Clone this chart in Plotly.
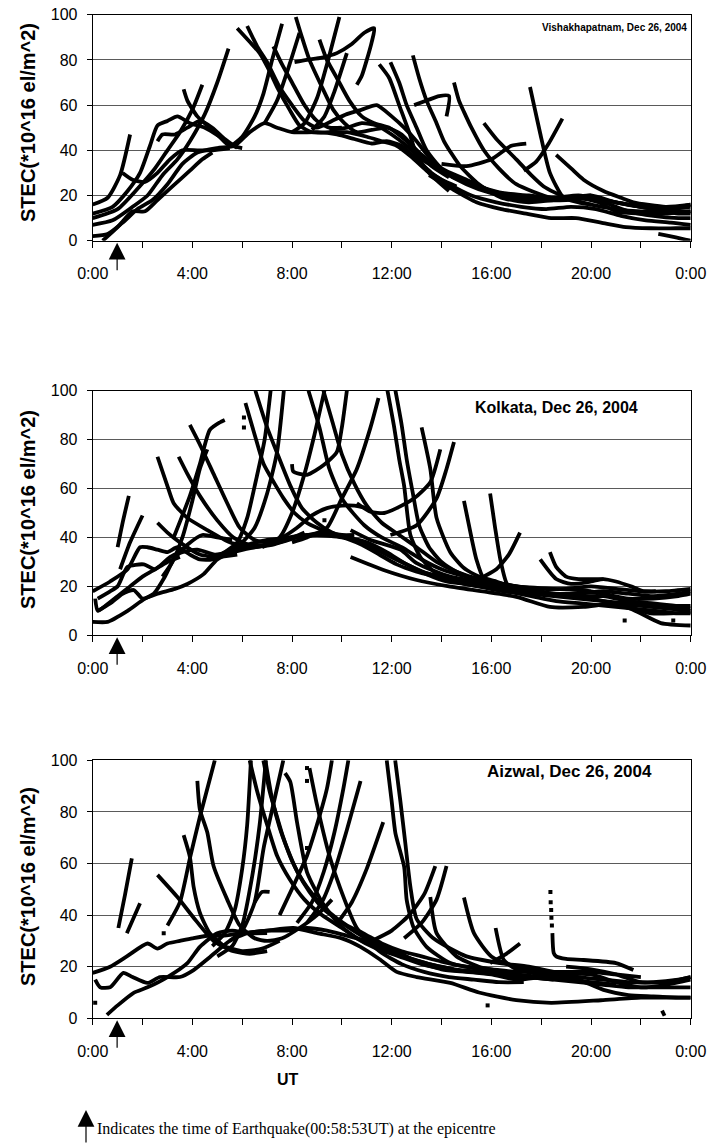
import plotly.graph_objects as go

# ---------------- DATA (UT hours, STEC in 1e16 el/m^2) ----------------
hour_ticks = [0, 2, 4, 6, 8, 10, 12, 14, 16, 18, 20, 22, 24]
hour_labels = ["0:00", "", "4:00", "", "8:00", "", "12:00", "", "16:00", "", "20:00", "", "0:00"]
stec_ticks = [0, 20, 40, 60, 80, 100]
quake_hour = 0.98  # 00:58:53 UT

stations = ["Vishakhapatnam, Dec 26, 2004", "Kolkata, Dec 26, 2004", "Aizwal, Dec 26, 2004"]

# Vishakhapatnam passes
vis_t = [
    [0, 0.6, 1.1, 1.5],
    [0, 0.8, 1.4, 1.9, 2.3, 2.6, 3.0, 3.4, 3.9, 4.5, 5.1, 5.6, 6.0],
    [0, 1.0, 1.8, 2.5, 3.0, 3.5, 4.0, 4.4],
    [0, 0.8, 1.6, 2.2, 2.8, 3.4, 3.9, 4.5, 5.0, 5.45],
    [0.4, 1.0, 1.6, 2.1, 2.6, 3.2, 3.9, 4.4, 4.8],
    [0, 0.6, 1.2, 1.8, 2.4, 3.0, 3.6, 4.2, 5.0, 5.7, 6.3, 6.9, 7.4, 8.0, 9.0, 9.8, 10.5, 11.2, 11.8, 12.4, 13.0, 13.6, 14.3, 15.2, 16.2, 17.2, 18.2, 19.2, 20.2, 21.2, 22.2, 23.2, 24],
    [1.2, 1.6, 2.1, 2.6, 3.1, 3.6, 4.2, 4.8, 5.5],
    [2.6, 2.8, 3.3, 3.8, 4.3, 4.8, 5.3, 5.8],
    [3.65, 3.8, 4.2, 4.6, 5.0, 5.5, 6.0, 6.5, 6.85, 7.2, 7.6],
    [5.8, 6.3, 6.7, 7.1, 7.4, 7.9, 8.3, 8.8, 9.5, 10.2, 11.0, 11.6, 12.2, 12.8, 13.4, 14.0, 14.6],
    [6.2, 6.6, 7.0, 7.5, 8.0, 8.5, 9.0, 9.6, 10.2, 10.8, 11.4, 12.0, 12.5, 13.0, 13.5, 14.2, 15.0, 16.0, 17.0, 18.0, 19.0, 20.0],
    [8.15, 8.4, 8.7, 9.2, 9.65, 10.1, 10.6, 11.2, 11.8, 12.4, 13.0, 13.6, 14.3],
    [6.9, 7.4, 7.9, 8.3],
    [8.1, 8.6, 9.2, 9.8, 10.4, 10.9, 11.3, 11.2, 11.0, 10.8, 10.6],
    [8.0, 8.5, 9.0, 9.4, 9.9],
    [8.8, 9.3, 9.7, 10.2],
    [9.1, 9.4, 9.8, 10.3, 10.8, 11.3, 11.9, 12.5, 13.2, 14.0, 15.0, 16.0, 17.0, 18.0, 19.0, 20.0, 21.0, 22.0, 23.0, 24.0],
    [7.25, 7.6, 8.0, 8.5, 9.0, 9.5, 10.0],
    [11.5, 11.9, 12.3, 12.7, 13.0, 13.5, 14.3],
    [11.95, 12.3, 12.6, 13.0, 13.4, 14.0, 15.0, 16.0, 17.0, 18.0, 19.0, 20.0, 21.0, 22.0, 23.0, 24.0],
    [12.85, 13.1, 13.4, 13.8, 14.1, 14.75, 15.5, 16.4, 17.5, 18.5, 19.5, 20.5, 21.5, 22.5, 23.5, 24],
    [14.5, 14.7, 14.9, 15.2, 15.7, 16.3, 17.0, 18.4, 19.5, 20.3, 21.0, 22.0, 23.0, 24.0],
    [15.7, 16.2, 17.0, 17.6, 18.1, 19.0, 20.0, 21.0, 22.0, 23.0, 24.0],
    [17.55, 17.75, 17.95, 18.35, 18.9, 19.5, 20.0],
    [17.3, 17.8, 18.3, 18.85],
    [18.6, 19.2, 19.7, 20.5, 21.2, 21.7, 23.0, 24.0],
    [14.0, 15.0, 16.0, 16.8, 17.4],
    [12.9, 13.4, 13.9, 14.3, 14.2],
    [22.7, 23.4, 24.0],
    [13.5, 14.4, 15.4, 16.4, 17.4, 18.4, 19.4, 20.4, 21.4, 22.4, 23.4, 24.0],
    [9.5, 10.2, 10.8, 11.4, 12.0, 12.6, 13.2, 13.8, 14.5, 15.5, 16.5, 17.5, 18.5, 19.5, 20.5, 21.5, 22.5, 23.5, 24],
]
vis_v = [
    [16, 19, 29, 47],
    [12, 15, 22, 30, 42, 51, 53, 55, 52, 50, 46, 42, 41],
    [10, 14, 23, 32, 40, 48, 58, 69],
    [7, 9, 15, 20, 29, 36, 44, 56, 70, 85],
    [0, 6, 13, 13, 18, 24, 31, 36, 39],
    [2, 3, 8, 14, 18, 25, 34, 39, 41, 42, 48, 52, 50, 48, 48, 47, 45, 43, 44, 42, 36, 30, 25, 20, 17, 15, 14, 15, 14, 11, 9, 8, 7],
    [30, 27, 26, 30, 36, 40, 40, 40, 41],
    [44, 47, 47, 50, 53, 50, 45, 41],
    [67, 62, 55, 51, 47, 42, 46, 55, 65, 80, 96],
    [94, 88, 83, 75, 68, 58, 51, 48, 48, 48, 46, 44, 42, 37, 31, 27, 24],
    [95, 86, 79, 68, 60, 53, 50, 53, 56, 58, 60, 55, 50, 44, 37, 30, 26, 22, 20, 19, 19, 20],
    [99, 90, 80, 68, 58, 52, 48, 49, 50, 47, 40, 33, 28],
    [52, 62, 78, 92],
    [79, 80, 81, 83, 87, 92, 94, 88, 80, 73, 69],
    [48, 52, 63, 78, 99],
    [49, 55, 66, 83],
    [89, 80, 72, 62, 55, 52, 50, 45, 38, 31, 25, 21, 19, 18, 18, 19, 17, 15, 14, 15],
    [86, 78, 70, 60, 53, 50, 50],
    [78, 72, 60, 48, 38, 30, 22],
    [79, 70, 60, 50, 40, 32, 27, 22, 19, 18, 19, 20, 17, 15, 14, 16],
    [82, 72, 62, 52, 44, 33, 25, 19, 17, 18, 19, 17, 13, 11, 10, 10],
    [70, 62, 57, 50, 40, 32, 25, 19, 19, 17, 13, 12, 12, 13],
    [52, 45, 36, 29, 24, 19, 16, 14, 13, 13, 13],
    [68, 58, 48, 30, 19, 17, 16],
    [31, 35, 43, 54],
    [38, 32, 27, 22, 19, 17, 15, 16],
    [34, 33, 36, 42, 43],
    [60, 62, 64, 64, 55],
    [3, 1.5, 0],
    [29, 23, 17, 14, 12, 10, 10, 8, 6, 5.5, 5.5, 5.5],
    [49, 50, 52, 51, 47, 42, 36, 32, 28, 24, 21, 20, 19, 20, 18, 16, 14, 12, 12],
]

# Kolkata passes
kol_t = [
    [1.0, 1.2, 1.45],
    [1.1, 1.5, 2.0],
    [0, 0.7, 1.4, 1.9, 2.2, 2.6, 3.0, 3.4, 3.9, 4.3, 4.8, 5.5, 6.2, 7.0, 7.8, 8.6, 9.4, 10.2, 11.0, 11.8, 12.6, 13.4, 14.2, 15.0, 16.0, 17.0, 18.0],
    [0.1, 0.2, 0.5, 1.0, 1.5, 2.0, 2.5, 3.0, 3.5],
    [0, 0.6, 1.4, 2.1, 2.6, 3.3, 3.8, 4.45, 5.0, 5.65, 7.0, 8.05, 9.0, 10.0, 10.8, 11.5, 12.2, 13.0, 13.8, 14.6, 15.6, 16.6, 17.6, 18.6, 19.6, 20.6, 21.6, 22.6, 23.4, 24],
    [0.2, 0.7, 1.2, 1.65, 2.0, 2.45, 2.9, 3.25, 3.8, 4.4, 5.0, 5.6],
    [0.2, 0.7, 1.0, 1.4, 2.05, 2.5, 3.1, 3.6, 4.2, 4.9, 5.5, 6.2],
    [2.6, 3.0, 3.25, 3.8, 4.6, 5.5, 6.3, 7.2, 8.2, 9.2, 10.2, 11.0, 11.8, 12.6, 13.5, 14.5, 15.5, 16.5, 17.5, 18.5, 19.5, 20.5, 21.5, 22.5, 23.5, 24],
    [3.45, 3.8, 4.3, 5.0, 5.65, 6.3, 7.0, 7.8, 8.5],
    [3.9, 4.3, 4.85, 5.4, 5.9, 6.5, 7.0, 7.6, 8.2, 8.8, 9.4, 10.0, 10.5, 11.0],
    [2.6, 3.0, 3.5, 4.3, 5.0, 5.8],
    [3.25, 3.9, 4.3, 4.7, 5.1, 5.3],
    [2.8, 3.2, 3.6, 4.0, 4.3, 4.6],
    [6.13, 6.5, 6.86, 7.3, 7.66, 8.1, 8.6, 9.0, 9.5, 10.0, 10.5],
    [6.53, 7.0, 7.5, 7.94, 8.4, 9.0, 9.6, 10.2, 10.8, 11.4, 12.0, 12.6, 13.2, 14.0, 15.0, 16.0, 17.0, 18.0],
    [4.8, 5.3, 5.8, 6.2, 6.5, 6.9, 7.14],
    [5.5, 6.0, 6.5, 7.0, 7.4, 7.67],
    [8.0, 8.05, 8.6, 9.27, 9.8, 10.0, 10.2],
    [8.66, 9.1, 9.5, 10.06, 10.9, 11.6, 12.4, 13.2, 14.0, 15.0, 16.0, 17.0, 18.0, 19.0, 20.0, 21.0, 22.0, 23.0, 24.0],
    [8.0, 8.6, 9.4, 9.95, 10.6, 11.15, 11.47],
    [9.26, 9.6, 10.0, 10.5, 11.0, 11.6, 12.3, 13.0, 13.8, 14.6, 15.5, 16.5, 17.5, 18.5, 19.5, 20.5, 21.5, 22.5, 23.5, 24],
    [6.8, 7.5, 8.0, 8.5, 8.9, 9.3],
    [11.83, 12.1, 12.3, 12.5, 12.75, 13.15, 13.7, 14.5, 15.5, 16.5, 17.5, 18.5, 19.5, 20.5, 21.5, 22.5, 23.5, 24],
    [12.15, 12.4, 12.6, 12.85, 13.1, 13.5, 14.0, 14.6, 15.3, 16.0, 17.0, 18.0],
    [10.6, 11.15, 11.7, 12.2, 12.9, 13.55, 13.95],
    [11.95, 13.0, 13.8, 14.2, 14.5],
    [13.2, 13.55, 13.8, 14.35, 14.9, 15.5, 16.2, 17.0, 18.0, 19.0, 20.0, 21.0, 22.0, 23.0, 24.0],
    [14.9, 15.2, 15.4, 15.7, 16.2, 17.0, 18.0],
    [15.95, 16.15, 16.36, 16.63, 17.0, 17.5, 18.2, 19.0, 20.0],
    [15.5, 16.2, 16.7, 17.15],
    [17.96, 18.6, 19.2, 20.0, 20.5, 21.0, 21.6, 22.1, 22.6],
    [18.35, 18.6, 19.0, 19.5, 20.1, 20.5],
    [10.35, 11.15, 12.35, 13.0, 14.35, 17.0, 18.5, 19.7, 20.5, 21.5, 22.5, 23.5, 24],
    [10.35, 11.67, 13.0, 14.3, 17.0, 18.35, 19.7, 21.0, 22.4, 24],
    [20.65, 21.7, 22.8, 24],
]
kol_v = [
    [36, 46, 57],
    [27, 38, 49],
    [18, 22, 27, 36, 36, 35, 34, 36, 33, 31, 31, 35, 37, 39, 40, 41, 41, 40, 38, 34, 29, 25, 22, 21, 20, 19, 18],
    [15, 10, 12, 16, 20, 24, 27, 30, 32],
    [5.5, 5.5, 10, 15, 17, 19, 21, 25, 31, 34, 37, 40, 41, 40, 37, 33, 29, 26, 24, 22, 20, 18, 16, 14, 13, 12, 11, 10, 9, 9],
    [10, 13, 17, 18.5, 15, 17, 24, 31, 37, 41, 40, 39],
    [15, 18, 20, 28, 29, 27, 32, 34, 35, 33, 34, 36],
    [73, 61, 54, 48, 43, 38, 36, 37, 40, 42, 40, 37, 33, 29, 25, 22, 20, 19, 18, 17, 17, 18, 17, 16, 17, 18],
    [73, 66, 57, 47, 40, 37, 37, 39, 42],
    [86, 78, 66, 54, 44, 39, 38, 40, 44, 49, 52, 53, 53, 52],
    [46, 42, 38, 33, 32, 33],
    [40, 57, 70, 84, 87, 88],
    [24, 30, 40, 55, 68, 76],
    [95, 82, 70, 62, 56, 50, 46, 44, 42, 41, 41],
    [100, 85, 72, 61, 52, 46, 42, 40, 38, 35, 32, 29, 26, 24, 22, 20, 18, 17],
    [31, 34, 38, 48, 61, 80, 100],
    [35, 38, 44, 58, 75, 100],
    [70, 67, 65.6, 69.6, 75, 85, 100],
    [100, 85, 68, 55, 45, 40, 36, 31, 27, 24, 22, 20, 19, 19, 20, 19, 18, 18, 19],
    [38, 40, 44, 55, 68, 85, 97],
    [100, 88, 74, 62, 53, 46, 41, 36, 30, 26, 23, 21, 19, 17, 16, 16, 14, 13, 12, 12],
    [36, 40, 50, 66, 82, 100],
    [100, 85, 72, 61, 41, 32, 26, 22, 20, 18, 17, 16, 15, 14, 13, 12, 11, 11],
    [100, 86, 72, 58, 45, 36, 30, 26, 23, 21, 19, 18],
    [54, 50.5, 50, 52, 56, 62.6, 76],
    [41, 45, 56, 68, 79],
    [85, 68, 48, 34, 27.5, 24, 22, 19, 17, 16, 15, 13, 12, 11, 10],
    [55, 40, 31, 23, 20, 18, 17],
    [58, 44, 31, 21, 19, 18, 17, 17, 18],
    [23, 27, 33, 42],
    [31, 23, 21, 22, 23, 22, 20, 18, 18],
    [34, 28, 24, 23, 23, 23],
    [43, 39, 35, 29.5, 24, 20, 19, 18.5, 17, 15, 15, 16, 17],
    [32, 26.7, 22.6, 20, 15.7, 11.6, 11.6, 13, 9, 9.5],
    [13.6, 10.4, 5, 4],
]
kol_dot_t = [6.07, 6.07, 9.3, 21.35, 23.3]
kol_dot_v = [89, 85, 47, 6, 6]

# Aizwal passes
aiz_t = [
    [1.03, 1.3, 1.57],
    [1.37, 1.6, 1.9],
    [0, 0.7, 1.37, 2.2, 2.6, 3.0, 3.5, 4.0, 4.6, 5.2, 6.0, 7.0, 8.05, 9.0, 10.0, 10.75, 11.5, 12.2, 13.0, 14.35, 15.5, 17.0, 18.4, 20.4, 22.0, 24.0],
    [0.1, 0.3, 0.7, 1.23, 1.6, 2.2, 2.7, 3.5, 4.05, 4.7, 5.5, 6.2, 7.0, 7.8, 8.6, 9.4, 10.2, 11.0, 12.0, 13.0, 14.0, 15.0, 16.0, 17.0, 18.0, 19.0, 20.0, 21.0, 22.0, 23.0, 24.0],
    [0.57, 1.0, 1.63, 2.2, 3.0, 3.8, 4.3, 5.0, 5.6, 6.2, 7.0],
    [2.6, 3.4, 4.05, 4.85, 5.65, 6.3, 7.0],
    [3.65, 3.9, 4.05, 4.3, 4.7, 5.3, 6.0, 6.8, 7.5],
    [4.2, 4.3, 4.6, 4.85, 5.4, 5.9, 6.5, 7.0, 7.6, 8.3, 9.0, 9.6],
    [3.0, 3.5, 3.9, 4.3, 4.9],
    [6.3, 6.6, 7.0, 7.4, 7.9, 8.5, 9.2, 10.0, 10.8, 11.6, 12.5, 13.5, 14.5, 15.5, 16.5, 17.5, 18.5, 19.5, 20.5, 21.5, 22.5, 23.5, 24],
    [6.85, 7.1, 7.4, 7.65, 8.0, 8.45, 9.0, 9.5, 10.2, 10.85, 11.6, 12.4, 13.2, 14.0, 15.0, 16.0, 17.0, 18.0, 19.0, 20.0, 21.0, 22.0],
    [6.93, 7.2, 7.5, 7.8, 8.2, 8.7, 9.3, 10.0, 10.8, 11.6, 12.5, 13.5, 14.5],
    [7.72, 7.93, 8.2, 8.6, 9.27, 9.93, 10.6, 11.4, 12.3, 13.2, 14.2, 15.2, 16.2, 17.2],
    [8.7, 9.0, 9.5, 9.93, 10.6, 11.55, 12.4, 13.3, 14.3, 15.3, 16.3, 17.3],
    [4.8, 5.3, 5.7, 6.0, 6.2, 6.35],
    [5.0, 5.6, 6.0, 6.4, 6.7, 6.95],
    [6.5, 6.8, 7.1],
    [5.5, 6.0, 6.5, 6.86, 7.3, 7.65],
    [7.5, 8.6, 9.0, 9.4, 9.6],
    [8.2, 8.8, 9.27, 9.7, 10.06, 10.26],
    [8.6, 9.2, 9.7, 10.2, 10.75],
    [9.9, 10.4, 11.0, 11.66],
    [11.2, 12.0, 12.7, 13.3, 13.75],
    [12.5, 13.2, 13.8, 14.2],
    [11.8, 12.0, 12.15, 12.5, 12.6, 12.87, 13.4, 14.35, 15.7, 17.0, 18.0, 19.0, 20.0, 21.0],
    [12.14, 12.35, 12.55, 12.75, 13.0, 13.7, 15.0, 16.35, 17.5, 18.5, 19.5, 20.5, 21.5, 22.5, 23.5, 24],
    [13.55, 13.8, 14.6, 15.5, 16.5, 17.5, 18.5],
    [14.9, 15.3, 16.0, 17.0, 18.0, 19.0],
    [16.17, 16.5, 17.0, 18.0, 19.0],
    [15.95, 16.6, 17.15],
    [18.45, 18.5, 18.6, 19.0, 19.7, 21.0, 21.7],
    [18.5, 19.5, 20.5, 21.5, 22.5, 23.5, 24],
    [19, 20, 21, 22, 23, 24],
    [22.85, 22.95],
]
aiz_v = [
    [35, 48, 62],
    [33, 38, 44.6],
    [17.6, 20, 24, 29, 27, 29, 30, 31, 32, 32, 33, 34, 35, 33, 31, 27.7, 23, 18, 16, 13.7, 10, 7, 6, 7, 8, 8],
    [15, 12, 12, 17.6, 16, 13.7, 16, 16, 18.7, 23.7, 30, 33, 34, 34, 35, 34, 32, 30, 27, 22, 19, 18, 17, 15, 16, 17, 17, 14, 12, 13, 15],
    [1.3, 5, 9.8, 12, 16, 21.4, 27.7, 33, 34, 33, 33],
    [55.6, 47, 39, 30, 26, 25, 26],
    [71, 62.6, 51, 41, 33, 28, 26, 27, 30],
    [92, 81, 72, 59, 46, 36, 31, 30, 31, 35, 40, 46],
    [36, 45, 62, 78, 100],
    [100, 88, 75, 63, 54, 46, 40, 35, 30, 27, 24, 21, 19, 18, 17, 16, 15, 14, 13, 12, 12, 12, 12],
    [100, 88, 78, 70, 61, 53, 46, 41, 36, 33, 29, 26, 24, 22, 20, 19, 18, 18, 18, 18, 17, 16],
    [100, 85, 74, 66, 57, 49, 42, 37, 32, 28, 24, 21, 19],
    [95, 91.6, 76, 56.7, 44, 36, 31, 27, 24, 21, 19, 18, 17, 16],
    [97, 82.8, 63, 50.5, 35, 25.7, 21, 18, 16, 15, 14, 14],
    [28, 33, 42, 58, 75, 100],
    [24, 28, 36, 55, 75, 100],
    [45, 49, 49],
    [30, 34, 45, 66, 85, 100],
    [40, 63, 75, 89, 100],
    [37, 45, 56.7, 72, 89, 100],
    [37, 45, 57, 73, 92],
    [38, 45, 58, 76],
    [30, 34, 40, 48, 59],
    [31, 37, 46, 59],
    [100, 84, 71.7, 58.7, 46, 35.4, 27.7, 21.4, 18.7, 17, 16, 15, 14, 13],
    [100, 84, 67.6, 51, 38.5, 30.8, 24, 21.4, 20, 18, 16, 15, 14, 14, 15, 16],
    [47, 33, 24, 20, 18, 16, 15],
    [46.8, 33, 24, 20, 18, 17],
    [35, 22.6, 19, 17, 16],
    [21.4, 25, 29],
    [33, 25.4, 24, 23, 22.6, 21.4, 18.7],
    [17.6, 15, 11, 9, 8.5, 8, 8],
    [20, 19, 17, 14, 14, 16],
    [3, 1],
]
aiz_dot_t = [0.1, 2.85, 8.6, 8.6, 8.6, 15.85, 18.37, 18.38, 18.4, 18.41, 18.43]
aiz_dot_v = [6, 33, 97, 92, 66, 5, 49, 45, 42, 39, 36]

# ---------------- FIGURE ----------------
W, H = 710, 1144


def fx(px):
    return px / W


def fy(py):
    return 1 - py / H


X0, X1 = 92.7, 690.7
panels_px = [(14.7, 240.7), (390.7, 635.3), (760.3, 1018.3)]
title_pos = [(614, 27, 10), (556, 407, 16), (569, 771, 17)]
ytitle_center = [123, 510, 887]

FONT = "Liberation Sans, Arial, Helvetica, sans-serif"

fig = go.Figure()
series = [(vis_t, vis_v, None, None), (kol_t, kol_v, kol_dot_t, kol_dot_v), (aiz_t, aiz_v, aiz_dot_t, aiz_dot_v)]

for i, (ts, vs, dt, dv) in enumerate(series):
    sfx = "" if i == 0 else str(i + 1)
    for t, v in zip(ts, vs):
        fig.add_trace(go.Scatter(x=t, y=v, mode="lines", xaxis="x" + sfx, yaxis="y" + sfx,
                                 line=dict(color="black", width=3.8, shape="spline", smoothing=0.6),
                                 hoverinfo="skip", showlegend=False))
    if dt:
        fig.add_trace(go.Scatter(x=dt, y=dv, mode="markers", xaxis="x" + sfx, yaxis="y" + sfx,
                                 marker=dict(color="black", size=4, symbol="square"),
                                 hoverinfo="skip", showlegend=False))

layout = dict(width=W, height=H, margin=dict(l=0, r=0, t=0, b=0, pad=0, autoexpand=False),
              paper_bgcolor="white", plot_bgcolor="white", showlegend=False, hovermode=False)
annotations = []
for i, (top, bot) in enumerate(panels_px):
    sfx = "" if i == 0 else str(i + 1)
    layout["xaxis" + sfx] = dict(
        domain=[fx(X0), fx(X1)], anchor="y" + sfx, range=[0, 24], automargin=False,
        tickmode="array", tickvals=hour_ticks, ticktext=hour_labels,
        ticks="outside", ticklen=6, tickcolor="black", tickwidth=1,
        showgrid=False, zeroline=False, showline=True, mirror=True,
        linecolor="black", linewidth=1, ticklabelstandoff=12, ticklabeloverflow="allow",
        tickfont=dict(family=FONT, size=16, color="black"), fixedrange=True)
    layout["yaxis" + sfx] = dict(
        domain=[fy(bot), fy(top)], anchor="x" + sfx, range=[0, 100], automargin=False,
        tickmode="array", tickvals=stec_ticks,
        ticks="outside", ticklen=5, tickcolor="black", tickwidth=1,
        showgrid=True, gridcolor="#5a5a5a", gridwidth=1, zeroline=False,
        showline=True, mirror=True, linecolor="black", linewidth=1,
        ticklabelstandoff=6, ticklabeloverflow="allow",
        tickfont=dict(family=FONT, size=16, color="black"), fixedrange=True)
    # earthquake arrow
    annotations.append(dict(x=quake_hour, y=0, xref="x" + sfx, yref="y" + sfx, text="",
                            showarrow=True, ax=0, ay=31, arrowhead=2, arrowsize=2.8,
                            arrowwidth=1.2, arrowcolor="black", standoff=2))
    # station label
    tx, ty, ts_ = title_pos[i]
    annotations.append(dict(x=fx(tx), y=fy(ty), xref="paper", yref="paper",
                            text="<b>" + stations[i] + "</b>", showarrow=False,
                            xanchor="center", yanchor="middle",
                            font=dict(family=FONT, size=ts_, color="black")))
    # y title
    annotations.append(dict(x=fx(28), y=fy(ytitle_center[i]), xref="paper", yref="paper",
                            text="<b>STEC(*10^16 el/m^2)</b>", showarrow=False, textangle=-90,
                            xanchor="center", yanchor="middle",
                            font=dict(family=FONT, size=20, color="black")))

annotations.append(dict(x=fx(288), y=fy(1079), xref="paper", yref="paper", text="<b>UT</b>",
                        showarrow=False, xanchor="center", yanchor="middle",
                        font=dict(family=FONT, size=16, color="black")))
annotations.append(dict(x=fx(86), y=fy(1110), xref="paper", yref="paper", text="",
                        showarrow=True, ax=0, ay=34, arrowhead=2, arrowsize=2.8,
                        arrowwidth=1.2, arrowcolor="black", standoff=0))
annotations.append(dict(x=fx(95), y=fy(1129), xref="paper", yref="paper",
                        text="Indicates the time of Earthquake(00:58:53UT) at the epicentre",
                        showarrow=False, xanchor="left", yanchor="middle",
                        font=dict(family="Liberation Serif, Times New Roman, serif", size=16, color="black")))
layout["annotations"] = annotations
fig.update_layout(**layout)
fig.write_html("out.html", config={"displayModeBar": False, "staticPlot": True},
               post_script="document.body.style.margin='0';document.body.style.overflow='hidden';")
